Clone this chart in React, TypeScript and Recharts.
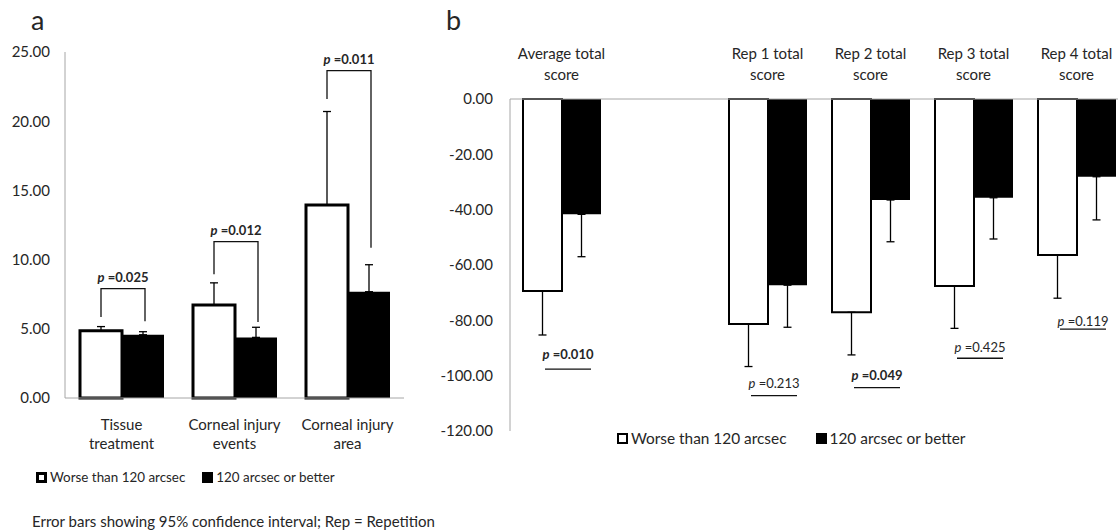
import React from "react";
import { BarChart, Bar, XAxis, YAxis, ErrorBar, LabelList, Legend } from "recharts";

const FONT = "Lato, 'Open Sans', sans-serif";
const INK = "#262626";
const AXIS = "#a6a6a6";
const WHITE = "#ffffff";
const BLACK = "#000000";

const seriesNames = ["Worse than 120 arcsec", "120 arcsec or better"];

// panel a
const outcomeLabels = ["Tissue treatment", "Corneal injury events", "Corneal injury area"];
const outcomeWorse = [4.86, 6.72, 13.95];
const outcomeWorseCi = [0.3, 1.6, 6.75];
const outcomeBetter = [4.57, 4.38, 7.68];
const outcomeBetterCi = [0.22, 0.73, 1.95];
const outcomeTicks = [0, 5, 10, 15, 20, 25];
const outcomeP = ["0.025", "0.012", "0.011"];
// bracket levels (data units): top bar, left foot, right foot
const bracketTop = [7.9, 11.3, 23.65];
const bracketLeftFoot = [5.85, 8.95, 21.6];
const bracketRightFoot = [5.55, 5.5, 10.85];

// panel b
const scoreLabels = ["Average total score", "", "Rep 1 total score", "Rep 2 total score", "Rep 3 total score", "Rep 4 total score"];
const scoreWorse = [-69.4, null, -81.3, -77.1, -67.6, -56.4];
const scoreWorseCi = [15.9, null, 15.4, 15.4, 15.3, 15.6];
const scoreBetter = [-41.7, null, -67.3, -36.5, -35.7, -28.1];
const scoreBetterCi = [15.3, null, 15.2, 15.1, 14.9, 15.6];
const scoreTicks = [0, -20, -40, -60, -80, -100, -120];
const scoreP = ["0.010", "", "0.213", "0.049", "0.425", "0.119"];
const scorePBold = [true, false, false, true, false, false];
const scorePText = [-92.2, null, -102.5, -99.7, -89.5, -80.1];
const scorePRule = [-97.6, null, -107.2, -104.3, -93.7, -83.2];

const outcomeData = outcomeLabels.map((name, i) => ({
  name,
  worse: outcomeWorse[i],
  worseErr: [0, outcomeWorseCi[i]],
  better: outcomeBetter[i],
  betterErr: [0, outcomeBetterCi[i]],
}));

const scoreData = scoreLabels.map((name, i) => ({
  name,
  worse: scoreWorse[i],
  worseErr: scoreWorseCi[i] == null ? null : [scoreWorseCi[i], 0],
  better: scoreBetter[i],
  betterErr: scoreBetterCi[i] == null ? null : [scoreBetterCi[i], 0],
}));

// labels are only handed out for drawn bars, so map back to the data row
const scoreDrawn = scoreWorse.map((v, i) => (v == null ? -1 : i)).filter((i) => i >= 0);

// value -> pixel, worked out from a drawn bar of known value
function scaleFromBar(vb: any, value: number) {
  const a = Number(vb.y);
  const b = Number(vb.y) + Number(vb.height);
  const top = Math.min(a, b);
  const bottom = Math.max(a, b);
  const ppu = (bottom - top) / Math.abs(value);
  const base = value >= 0 ? bottom : top;
  return (v: number) => base - v * ppu;
}

function TwoLineTick(props: any) {
  const { x, y, payload, offsets } = props;
  if (!payload || !payload.value) return null;
  const words = String(payload.value).split(" ");
  const last = words.pop();
  const lines = [words.join(" "), last];
  return (
    <g>
      {lines.map((l, k) => (
        <text key={k} x={x} y={y + offsets[k]} textAnchor="middle" dominantBaseline="central"
          fontFamily={FONT} fontSize={15} fill={INK}>
          {l}
        </text>
      ))}
    </g>
  );
}

function OutcomeBracket(props: any) {
  const i = props.index;
  const vb = props.viewBox ?? props;
  if (i == null || outcomeBetter[i] == null) return null;
  const toY = scaleFromBar(vb, outcomeBetter[i]);
  const xl = vb.x - vb.width / 2;
  const xr = vb.x + vb.width / 2 + 2;
  const yTop = toY(bracketTop[i]);
  return (
    <g>
      <polyline
        points={`${xl},${toY(bracketLeftFoot[i])} ${xl},${yTop} ${xr},${yTop} ${xr},${toY(bracketRightFoot[i])}`}
        fill="none" stroke="#111" strokeWidth={1.3} />
      <text x={(xl + xr) / 2} y={yTop - 12} textAnchor="middle" dominantBaseline="central"
        fontFamily={FONT} fontSize={13} fontWeight="bold" fill={INK}>
        <tspan fontStyle="italic">p</tspan> ={outcomeP[i]}
      </text>
    </g>
  );
}

function ScorePValue(props: any) {
  const i = scoreDrawn[props.index];
  const vb = props.viewBox ?? props;
  if (i == null || !scoreP[i] || scoreWorse[i] == null) return null;
  const toY = scaleFromBar(vb, scoreWorse[i] as number);
  const cx = vb.x + vb.width + 6;
  const ty = toY(scorePText[i] as number);
  const uy = toY(scorePRule[i] as number);
  return (
    <g>
      <text x={cx} y={ty} textAnchor="middle" dominantBaseline="central" fontFamily={FONT}
        fontSize={13} fontWeight={scorePBold[i] ? "bold" : "normal"} fill={INK}>
        <tspan fontStyle="italic">p</tspan> ={scoreP[i]}
      </text>
      <line x1={cx - 23} x2={cx + 23} y1={uy} y2={uy} stroke="#111" strokeWidth={1.3} />
    </g>
  );
}

function makeLegend(fontSize: number, gap: number, border: number) {
  return (props: any) => {
    const items = [...(props.payload ?? [])].sort(
      (p: any, q: any) => seriesNames.indexOf(p.value) - seriesNames.indexOf(q.value)
    );
    return (
      <div style={{ display: "flex", alignItems: "center", height: 20, fontFamily: FONT, fontSize, color: INK, whiteSpace: "nowrap" }}>
        {items.map((entry: any, k: number) => (
          <span key={k} style={{ display: "flex", alignItems: "center", marginLeft: k ? gap : 0 }}>
            <span style={{
              display: "inline-block", width: 11, height: 11, boxSizing: "border-box",
              background: entry.payload?.fill ?? (k === 0 ? WHITE : BLACK),
              border: `${border}px solid #000`, marginRight: 3,
            }} />
            {entry.value}
          </span>
        ))}
      </div>
    );
  };
}

const fmt = (v: number) => v.toFixed(2);

export default function App() {
  return (
    <div style={{ position: "absolute", left: 0, top: 0, width: 1118, height: 532, overflow: "hidden", background: "#fff", fontFamily: FONT, color: INK }}>
      <div style={{ position: "absolute", left: 31, top: 0, fontSize: 27, lineHeight: "40px" }}>a</div>
      <div style={{ position: "absolute", left: 446, top: 0, fontSize: 27, lineHeight: "40px" }}>b</div>

      <div style={{ position: "absolute", left: 0, top: 0 }}>
        <BarChart width={420} height={532} data={outcomeData} barGap={0} barSize={42}
          margin={{ top: 52, right: 16, bottom: 84, left: 10 }}>
          <XAxis dataKey="name" interval={0} stroke={AXIS} tickLine={false} tickSize={0} height={50}
            tick={(p: any) => <TwoLineTick {...p} offsets={[24, 43]} />} />
          <YAxis domain={[0, 25]} ticks={outcomeTicks} tickFormatter={fmt} width={55} stroke={AXIS}
            tickLine={false} tickSize={6} tickMargin={9}
            tick={{ fill: INK, fontSize: 15, fontFamily: FONT }} />
          <Legend verticalAlign="middle" align="center" layout="horizontal"
            wrapperStyle={{ left: 36, top: 467, width: "auto" }} content={makeLegend(13.4, 17, 3)} />
          <Bar dataKey="worse" name={seriesNames[0]} fill={WHITE} stroke={BLACK} strokeWidth={3} isAnimationActive={false}>
            <ErrorBar dataKey="worseErr" width={4} stroke={BLACK} strokeWidth={1.3} />
          </Bar>
          <Bar dataKey="better" name={seriesNames[1]} fill={BLACK} isAnimationActive={false}>
            <ErrorBar dataKey="betterErr" width={4} stroke={BLACK} strokeWidth={1.3} />
            <LabelList dataKey="better" content={OutcomeBracket} />
          </Bar>
        </BarChart>
      </div>

      <div style={{ position: "absolute", left: 440, top: 0 }}>
        <BarChart width={700} height={532} data={scoreData} barGap={0} barSize={39}
          margin={{ top: 44, right: 12, bottom: 101, left: 10 }}>
          <XAxis dataKey="name" orientation="top" interval={0} stroke={AXIS} tickLine={false} tickSize={0} height={55}
            tick={(p: any) => <TwoLineTick {...p} offsets={[-44, -23]} />} />
          <YAxis domain={[-120, 0]} ticks={scoreTicks} tickFormatter={fmt} width={60} stroke={AXIS}
            tickLine={false} tickSize={6} tickMargin={11}
            tick={{ fill: INK, fontSize: 15, fontFamily: FONT }} />
          <Legend verticalAlign="middle" align="center" layout="horizontal"
            wrapperStyle={{ left: 177, top: 428, width: "auto" }} content={makeLegend(15.4, 29, 2)} />
          <Bar dataKey="worse" name={seriesNames[0]} fill={WHITE} stroke={BLACK} strokeWidth={2} isAnimationActive={false}>
            <ErrorBar dataKey="worseErr" width={4} stroke={BLACK} strokeWidth={1.3} />
            <LabelList dataKey="worse" content={ScorePValue} />
          </Bar>
          <Bar dataKey="better" name={seriesNames[1]} fill={BLACK} isAnimationActive={false}>
            <ErrorBar dataKey="betterErr" width={4} stroke={BLACK} strokeWidth={1.3} />
          </Bar>
        </BarChart>
      </div>

      <div style={{ position: "absolute", left: 32, top: 511, fontSize: 15, lineHeight: "20px", whiteSpace: "nowrap" }}>
        Error bars showing 95% confidence interval; Rep = Repetition
      </div>
    </div>
  );
}
